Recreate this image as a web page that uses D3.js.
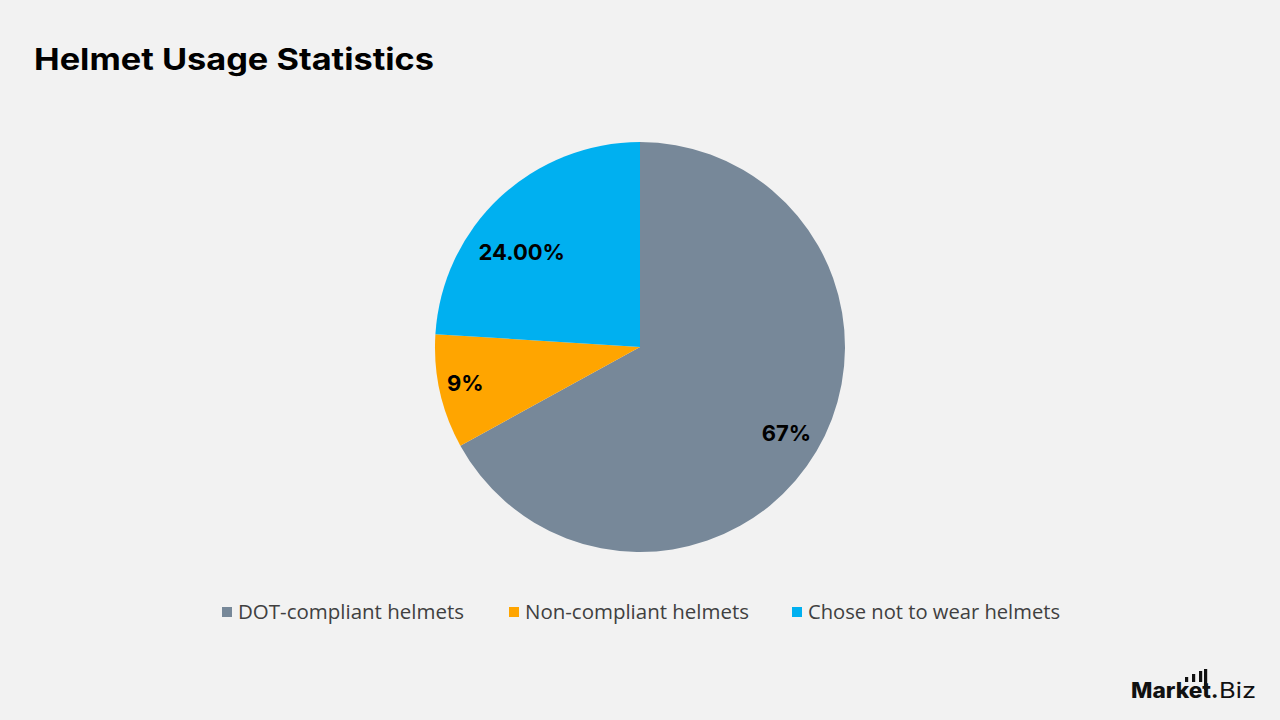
<!DOCTYPE html>
<html>
<head>
<meta charset="utf-8">
<script src="https://cdn.jsdelivr.net/npm/d3@7"></script>
<style>
  html, body { margin: 0; padding: 0; background: #F2F2F2; }
  svg { display: block; }
</style>
</head>
<body>
<svg id="chart" width="1280" height="720"></svg>
<script>
const categories = ["DOT-compliant helmets", "Non-compliant helmets", "Chose not to wear helmets"];
const values = [67, 9, 24];
const valueLabels = ["67%", "9%", "24.00%"];
const colors = ["#778899", "#FFA500", "#00B0F0"];
const labelRadiusFactor = [0.83, 0.87, 0.74];
const labelAngleOffsetDeg = [0, 1, -8];

const svg = d3.select("#chart");
svg.append("rect").attr("width", 1280).attr("height", 720).attr("fill", "#F2F2F2");

svg.append("text")
  .attr("x", 34).attr("y", 70)
  .attr("font-family", "Inter, 'Open Sans', sans-serif")
  .attr("font-weight", 700)
  .attr("font-size", 30)
  .attr("textLength", 400)
  .attr("lengthAdjust", "spacingAndGlyphs")
  .attr("fill", "#000")
  .text("Helmet Usage Statistics");

const cx = 640, cy = 347, r = 205;
const pie = d3.pie().sort(null).value(d => d)(values);
const arc = d3.arc().innerRadius(0).outerRadius(r);
const g = svg.append("g").attr("transform", `translate(${cx},${cy})`);
g.selectAll("path").data(pie).join("path")
  .attr("d", arc)
  .attr("fill", (d, i) => colors[i]);

g.selectAll("text.lbl").data(pie).join("text")
  .attr("class", "lbl")
  .attr("transform", (d, i) => {
    const a = (d.startAngle + d.endAngle) / 2 + labelAngleOffsetDeg[i] * Math.PI / 180;
    const rr = r * labelRadiusFactor[i];
    return `translate(${rr * Math.sin(a)},${-rr * Math.cos(a)})`;
  })
  .attr("text-anchor", "middle")
  .attr("dy", "0.35em")
  .attr("font-family", "Inter, 'Open Sans', sans-serif")
  .attr("font-weight", 700)
  .attr("font-size", 22)
  .attr("fill", "#000")
  .text((d, i) => valueLabels[i]);

// legend
const legendX = [222, 509, 792];
const legendTextW = [226, 224, 252];
const leg = svg.append("g");
categories.forEach((c, i) => {
  leg.append("rect").attr("x", legendX[i]).attr("y", 607).attr("width", 10).attr("height", 10).attr("fill", colors[i]);
  leg.append("text").attr("x", legendX[i] + 16).attr("y", 619)
    .attr("font-family", "'Open Sans', sans-serif")
    .attr("font-size", 19.5)
    .attr("textLength", legendTextW[i])
    .attr("lengthAdjust", "spacingAndGlyphs")
    .attr("fill", "#404040")
    .text(c);
});

// logo
const logo = svg.append("g").attr("fill", "#111");
logo.append("text").attr("x", 1131).attr("y", 698)
  .attr("font-family", "Inter, 'Open Sans', sans-serif")
  .attr("font-size", 21).attr("font-weight", 800)
  .attr("textLength", 80).attr("lengthAdjust", "spacingAndGlyphs")
  .text("Market");
logo.append("text").attr("x", 1211).attr("y", 698)
  .attr("font-family", "Inter, 'Open Sans', sans-serif")
  .attr("font-size", 21).attr("font-weight", 800)
  .text(".");
logo.append("text").attr("x", 1219).attr("y", 698)
  .attr("font-family", "Inter, 'Open Sans', sans-serif")
  .attr("font-size", 21).attr("font-weight", 400)
  .attr("textLength", 37).attr("lengthAdjust", "spacingAndGlyphs")
  .text("Biz");
[[1185, 677, 682], [1192, 674, 682], [1199, 671, 682], [1204, 669, 690]].forEach(([x, y0, y1]) => {
  logo.append("rect").attr("x", x).attr("y", y0).attr("width", 3.2).attr("height", y1 - y0);
});
</script>
</body>
</html>
